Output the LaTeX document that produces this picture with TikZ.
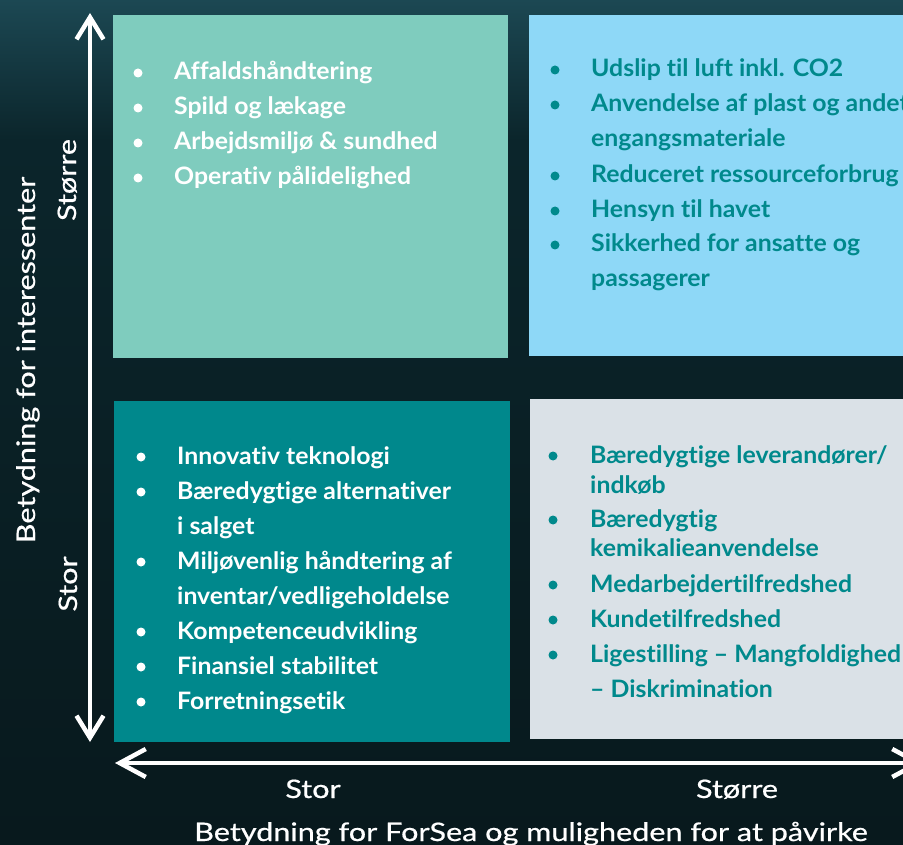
\documentclass[tikz,border=0pt]{standalone}
\usepackage{fontspec}
\setmainfont{Lato}
\newfontfamily\boldf[FakeStretch=1.035,Ligatures=NoCommon]{Lato Bold}
\newfontfamily\axisf[FakeStretch=1.2,FakeBold=0.6,Ligatures=NoCommon]{Lato}
\usetikzlibrary{arrows.meta}
\definecolor{bgtop}{HTML}{1C4853}
\definecolor{bgmid}{HTML}{0B252B}
\definecolor{bgbot}{HTML}{08191D}
\definecolor{qtl}{HTML}{7FCCBE}
\definecolor{qtr}{HTML}{8ED8F7}
\definecolor{qbl}{HTML}{00888C}
\definecolor{qbr}{HTML}{DAE1E7}
\definecolor{tealtxt}{HTML}{00898C}
\tikzset{
  quad/.style={rectangle, inner sep=0pt, anchor=north west},
  itemtext/.style={anchor=base west, inner sep=0pt, font=\boldf\fontsize{24}{24}\selectfont},
  bdot/.style={circle, inner sep=0pt, minimum size=9pt},
  axisline/.style={white, line width=4.5pt},
  axislab/.style={white, inner sep=0pt, font=\axisf\fontsize{25.5}{25.5}\selectfont},
}
\begin{document}
\begin{tikzpicture}[x=1pt,y=-1pt]
\useasboundingbox (0,0) rectangle (903,845);
\clip (0,0) rectangle (903,845);
% background
\fill[top color=bgtop, bottom color=bgmid] (0,0) rectangle (903,140);
\fill[top color=bgmid, bottom color=bgbot] (0,140) rectangle (903,845);

% quadrants
\node[quad, fill=qtl, minimum width=395pt, minimum height=343pt] (qTL) at (113,15) {};
\node[quad, fill=qtr, minimum width=380pt, minimum height=341pt] (qTR) at (529,15) {};
\node[quad, fill=qbl, minimum width=396pt, minimum height=341pt] (qBL) at (114,401) {};
\node[quad, fill=qbr, minimum width=380pt, minimum height=340pt] (qBR) at (530,399) {};

% axes
\coordinate (vtop) at (90,13);
\coordinate (vbot) at (90,742);
\coordinate (hleft) at (115,763);
\coordinate (hright) at (923,763);
\draw[axisline, {Straight Barb[length=22pt,width=27pt]}-{Straight Barb[length=22pt,width=27pt]}] (vtop) -- (vbot);
\draw[axisline, {Straight Barb[length=26pt,width=28pt]}-{Straight Barb[length=26pt,width=28pt]}] (hleft) -- (hright);

% axis labels
\node[axislab, rotate=90, anchor=base] (ylab) at (35,360) {Betydning for interessenter};
\node[axislab, rotate=90, anchor=base] (yhi) at (76,180) {Større};
\node[axislab, rotate=90, anchor=base] (ylo) at (77,584) {Stor};
\node[axislab, anchor=base] (xlo) at (313,798) {Stor};
\node[axislab, anchor=base] (xhi) at (737,798) {Større};
\node[axislab, anchor=base] (xlab) at (531,841) {Betydning for ForSea og muligheden for at påvirke};

% top-left items
\foreach \yy/\tt [count=\i] in {80/Affaldshåndtering, 115/Spild og lækage, 150/{Arbejdsmiljø \& sundhed}, 185/Operativ pålidelighed}{
  \node[itemtext, white] (tlt\i) at (174,\yy) {\tt};
  \node[bdot, fill=white] (tlb\i) at (138,\yy-7) {};
}
% top-right items
\foreach \yy/\tt [count=\i] in {77/Udslip til luft inkl. CO2, 112/Anvendelse af plast og andet, 147/engangsmateriale, 183/Reduceret ressourceforbrug, 218/Hensyn til havet, 252/Sikkerhed for ansatte og, 287/passagerer}{
  \node[itemtext, tealtxt] (trt\i) at (591,\yy) {\tt};
}
\foreach \yy [count=\i] in {77,112,183,218,252}{
  \node[bdot, fill=tealtxt] (trb\i) at (555,\yy-7) {};
}
% bottom-left items
\foreach \yy/\tt [count=\i] in {464/Innovativ teknologi, 499/Bæredygtige alternativer, 534/i salget, 569/Miljøvenlig håndtering af, 604/{inventar/vedligeholdelse}, 639/Kompetenceudvikling, 674/Finansiel stabilitet, 709/Forretningsetik}{
  \node[itemtext, white] (blt\i) at (177,\yy) {\tt};
}
\foreach \yy [count=\i] in {464,499,569,639,674,709}{
  \node[bdot, fill=white] (blb\i) at (141,\yy-7) {};
}
% bottom-right items
\foreach \yy/\tt [count=\i] in {463/{Bæredygtige leverandører/}, 493/indkøb, 527/Bæredygtig, 556/kemikalieanvendelse, 592/Medarbejdertilfredshed, 627/Kundetilfredshed, 662/Ligestilling – Mangfoldighed, 697/– Diskrimination}{
  \node[itemtext, tealtxt] (brt\i) at (590,\yy) {\tt};
}
\foreach \yy [count=\i] in {463,527,592,627,662}{
  \node[bdot, fill=tealtxt] (brb\i) at (553,\yy-7) {};
}
\end{tikzpicture}
\end{document}
